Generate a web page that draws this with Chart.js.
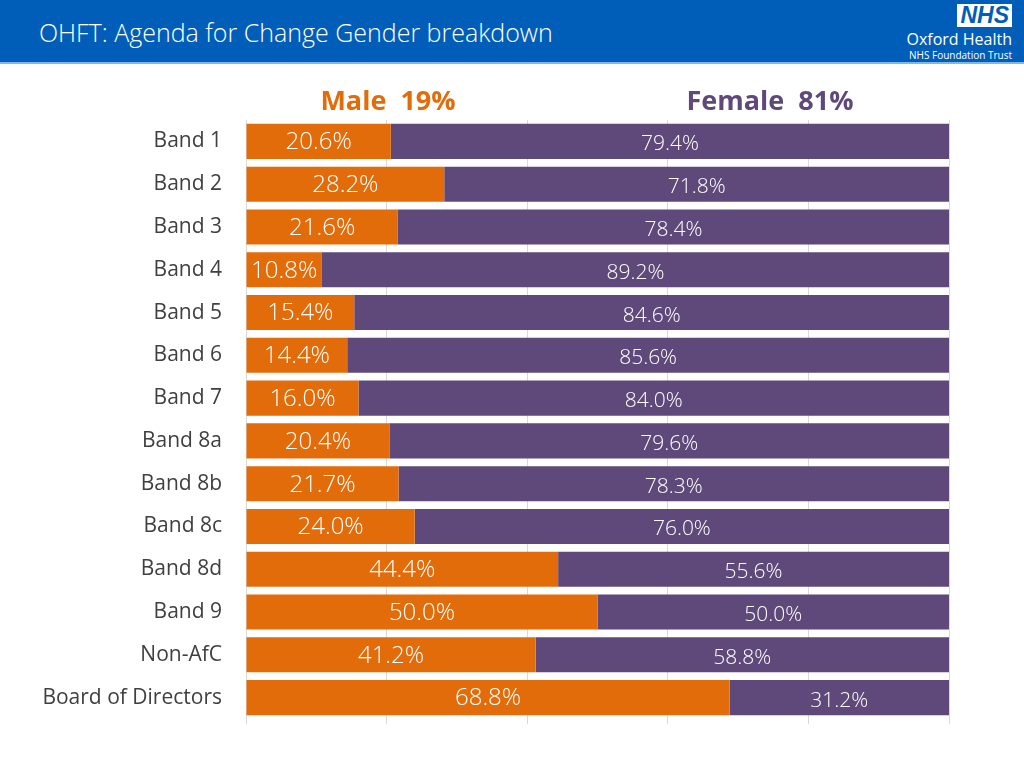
<!DOCTYPE html>
<html>
<head>
<meta charset="utf-8">
<script src="https://cdn.jsdelivr.net/npm/chart.js@4"></script>
<style>
    body { margin: 0; width: 1024px; height: 768px; overflow: hidden; background: #fff; font-family: "Open Sans", sans-serif; }
    #header { position: absolute; left: 0; top: 0; width: 1024px; height: 62px; background: #005EB8; border-bottom: 2px solid #7FB8E6; }
    #title { position: absolute; left: 39px; top: 15px; color: #fff; font-size: 25px; font-weight: 300; }
    #logo { position: absolute; right: 12px; top: 4px; text-align: right; color: #fff; }
    #nhs { display: inline-block; background: #fff; color: #005EB8; font: italic bold 23px Arial, sans-serif; padding: 0 3px; line-height: 23px; }
    #org { font-size: 16px; line-height: 18px; margin-top: 2px; }
    #trust { font-size: 10px; line-height: 14px; }
    .head { position: absolute; top: 81px; font-size: 27px; font-weight: bold; transform: translateX(-50%); white-space: pre; }
    #male { left: 388px; color: #E36C0A; }
    #female { left: 770px; color: #5F497A; }
    #chart { position: absolute; left: 0; top: 0; }
</style>
</head>
<body>
<canvas id="chart" width="1024" height="768"></canvas>
<div id="header">
    <div id="title">OHFT: Agenda for Change Gender breakdown</div>
    <div id="logo">
        <div id="nhs">NHS</div>
        <div id="org">Oxford Health</div>
        <div id="trust">NHS Foundation Trust</div>
    </div>
</div>
<div class="head" id="male">Male  19%</div>
<div class="head" id="female">Female  81%</div>
<script>
const bands  = ['Band 1', 'Band 2', 'Band 3', 'Band 4', 'Band 5', 'Band 6', 'Band 7', 'Band 8a', 'Band 8b', 'Band 8c', 'Band 8d', 'Band 9', 'Non-AfC', 'Board of Directors']
const male   = [20.6, 28.2, 21.6, 10.8, 15.4, 14.4, 16.0, 20.4, 21.7, 24.0, 44.4, 50.0, 41.2, 68.8]
const female = [79.4, 71.8, 78.4, 89.2, 84.6, 85.6, 84.0, 79.6, 78.3, 76.0, 55.6, 50.0, 58.8, 31.2]
const xTicks = [0, 20, 40, 60, 80, 100]

// draws the % text in the middle of each bar
const barLabels = {
    id: 'barLabels',
    afterDatasetsDraw(chart) {
        const ctx = chart.ctx
        ctx.save()
        ctx.fillStyle    = '#fff'
        ctx.textAlign    = 'center'
        ctx.textBaseline = 'middle'
        chart.data.datasets.forEach((ds, i) => {
            ctx.font = i === 0 ? '300 24px "Open Sans"' : '300 21px "Open Sans"'
            chart.getDatasetMeta(i).data.forEach((bar, j) => {
                const p = bar.getProps(['x', 'y', 'base'], true)
                ctx.fillText(ds.data[j].toFixed(1) + '%', (p.x + p.base) / 2, p.y + (i === 0 ? 1 : 3))
            })
        })
        ctx.restore()
    }
}

new Chart(document.getElementById('chart'), {
    type   : 'bar',
    data   : {
        labels  : bands,
        datasets: [
            {label: 'Male', data: male, backgroundColor: '#E36C0A', categoryPercentage: 0.82, barPercentage: 1},
            {label: 'Female', data: female, backgroundColor: '#5F497A', categoryPercentage: 0.82, barPercentage: 1}
        ]
    },
    options: {
        indexAxis : 'y',
        responsive: false,
        animation : false,
        layout    : {padding: {top: 120, right: 75, bottom: 44, left: 0}},
        plugins   : {legend: {display: false}, tooltip: {enabled: false}},
        scales    : {
            x: {
                stacked: true,
                min    : 0,
                max    : 100,
                afterBuildTicks: scale => { scale.ticks = xTicks.map(v => ({value: v})) },
                grid   : {color: '#D9D9D9', tickLength: 5, drawOnChartArea: true},
                border : {display: false},
                ticks  : {display: false}
            },
            y: {
                stacked : true,
                afterFit: scale => { scale.width = 246 },
                grid    : {display: false, drawTicks: false},
                border  : {display: false},
                ticks   : {color: '#404040', padding: 24, font: {family: 'Open Sans', size: 21}}
            }
        }
    },
    plugins: [barLabels]
})
</script>
</body>
</html>
